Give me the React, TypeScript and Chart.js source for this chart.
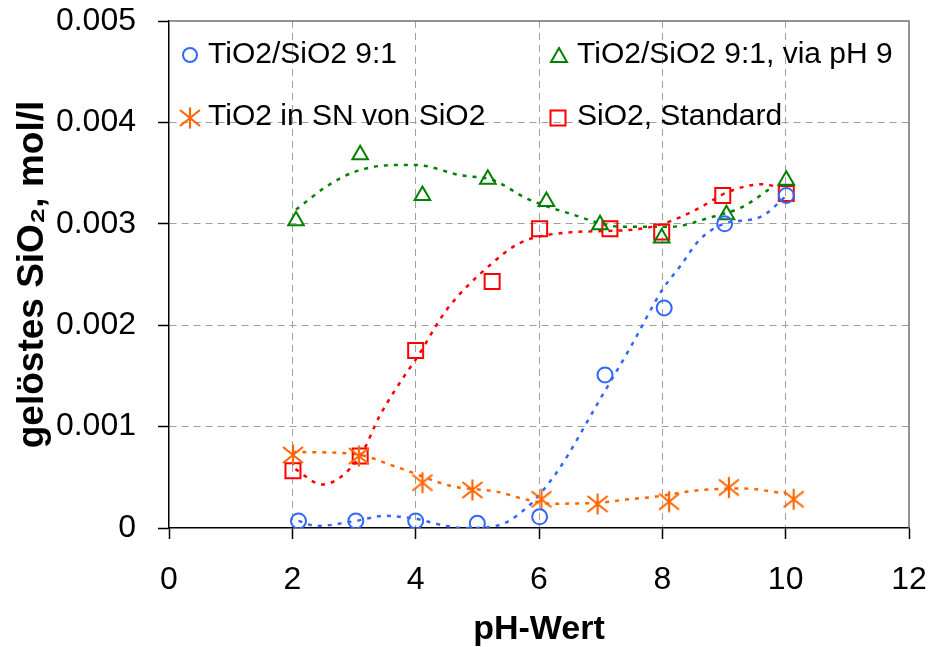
import React, { useEffect, useRef } from 'react';
import { Chart, registerables } from 'chart.js';

Chart.register(...registerables);

const FONT = '"Liberation Sans", Arial, sans-serif';

const xTickLabels = ['0', '2', '4', '6', '8', '10', '12'];
const yTickLabels = ['0', '0.001', '0.002', '0.003', '0.004', '0.005'];
const seriesNames = ['TiO2/SiO2 9:1', 'TiO2/SiO2 9:1, via pH 9', 'TiO2 in SN von SiO2', 'SiO2, Standard'];
const xTitle = 'pH-Wert';
const yTitle = 'gelöstes SiO₂, mol/l';

// measured points
const blueX = [2.1, 3.03, 4.0, 5.0, 6.01, 7.07, 8.03, 9.01, 10.01];
const blueY = [0.00007, 0.00007, 0.00007, 0.000046, 0.00011, 0.00151, 0.00217, 0.003, 0.00328];
const greenX = [2.06, 3.1, 4.11, 5.17, 6.12, 6.99, 7.99, 9.04, 10.01];
const greenY = [0.00303, 0.00368, 0.00328, 0.00344, 0.00322, 0.00299, 0.00286, 0.00309, 0.00343];
const orangeX = [2.01, 3.08, 4.11, 4.92, 6.04, 6.95, 8.11, 9.08, 10.13];
const orangeY = [0.00072, 0.00071, 0.000447, 0.000375, 0.000283, 0.000237, 0.00026, 0.0004, 0.000283];
const redX = [2.01, 3.1, 4.0, 5.24, 6.01, 7.15, 7.99, 8.98, 10.01];
const redY = [0.000565, 0.00071, 0.00175, 0.00243, 0.00295, 0.00295, 0.00292, 0.00328, 0.0033];

// dotted trend curves
const blueCurveX = [2.1, 2.4, 3.03, 3.5, 4.0, 4.5, 4.8, 5.3, 5.8, 6.3, 7.0, 7.5, 8.0, 8.3, 8.6, 9.0, 9.6, 10.0];
const blueCurveY = [0.00007, 0.00002, 0.00007, 0.00012, 0.00009, 0.00002, 0.0, 0.00002, 0.0002, 0.00056, 0.00128, 0.0018, 0.00235, 0.00259, 0.00284, 0.003, 0.00307, 0.00327];
const greenCurveX = [2.06, 2.56, 3.0, 3.64, 4.0, 4.72, 5.26, 5.8, 6.45, 7.36, 8.12, 8.82, 9.31, 9.8];
const greenCurveY = [0.00314, 0.00337, 0.00351, 0.00358, 0.00358, 0.00348, 0.00343, 0.00325, 0.00311, 0.00297, 0.00297, 0.00307, 0.00317, 0.00337];
const orangeCurveX = [2.0, 3.0, 3.7, 4.6, 5.3, 5.8, 6.2, 7.0, 7.4, 7.9, 8.55, 9.3, 10.0];
const orangeCurveY = [0.00075, 0.00073, 0.0006, 0.00041, 0.00036, 0.00028, 0.00024, 0.00025, 0.00028, 0.00031, 0.00037, 0.00039, 0.00034];
const redCurveX = [2.05, 2.48, 3.1, 3.42, 3.85, 4.0, 4.5, 5.2, 5.69, 6.39, 7.47, 8.01, 8.55, 9.09, 9.63, 9.9];
const redCurveY = [0.00058, 0.00043, 0.00071, 0.00111, 0.00153, 0.00166, 0.00215, 0.00259, 0.00281, 0.00291, 0.00294, 0.003, 0.00314, 0.00332, 0.00339, 0.00336];

const BLUE = '#3366ff';
const GREEN = '#008000';
const ORANGE = '#ff6600';
const RED = '#ff0000';

const pts = (xs: number[], ys: number[]) => xs.map((x, i) => ({ x, y: ys[i] }));

function makeStar(): HTMLCanvasElement {
  const c = document.createElement('canvas');
  c.width = 24;
  c.height = 24;
  const g = c.getContext('2d')!;
  g.strokeStyle = ORANGE;
  g.lineWidth = 2.2;
  g.beginPath();
  g.moveTo(12, 1.5); g.lineTo(12, 22.5);
  g.moveTo(2, 4); g.lineTo(22, 20);
  g.moveTo(2, 20); g.lineTo(22, 4);
  g.stroke();
  return c;
}

export default function App() {
  const ref = useRef<HTMLCanvasElement>(null);
  useEffect(() => {
    document.body.style.margin = '0';
    const star = makeStar();
    const edgeTransparent = (maxV: number) => (c: any) =>
      c.tick && (c.tick.value === 0 || Math.abs(c.tick.value - maxV) < 1e-12) ? 'rgba(0,0,0,0)' : '#a0a0a0';

    const frame = {
      id: 'frame',
      beforeDatasetsDraw(chart: any) {
        const { ctx, chartArea: a } = chart;
        ctx.save();
        ctx.strokeStyle = '#707070';
        ctx.lineWidth = 1.5;
        ctx.beginPath();
        ctx.moveTo(a.left, a.top);
        ctx.lineTo(a.right, a.top);
        ctx.lineTo(a.right, a.bottom);
        ctx.stroke();
        ctx.restore();
      },
    };

    const legend = {
      id: 'customLegend',
      afterDraw(chart: any) {
        const ctx = chart.ctx;
        const items = [
          { kind: 'circle', color: BLUE, mx: 190, my: 55, tx: 208, ty: 63 },
          { kind: 'triangle', color: GREEN, mx: 559, my: 56, tx: 577, ty: 63 },
          { kind: 'star', color: ORANGE, mx: 190, my: 118, tx: 208, ty: 125 },
          { kind: 'rect', color: RED, mx: 558, my: 118, tx: 577, ty: 125 },
        ];
        ctx.save();
        items.forEach((it, i) => {
          ctx.strokeStyle = it.color;
          ctx.lineWidth = 2;
          ctx.beginPath();
          if (it.kind === 'circle') {
            ctx.arc(it.mx, it.my, 7, 0, Math.PI * 2);
            ctx.stroke();
          } else if (it.kind === 'triangle') {
            ctx.moveTo(it.mx, it.my - 8);
            ctx.lineTo(it.mx + 8, it.my + 6);
            ctx.lineTo(it.mx - 8, it.my + 6);
            ctx.closePath();
            ctx.stroke();
          } else if (it.kind === 'rect') {
            ctx.rect(it.mx - 7.5, it.my - 7.5, 15, 15);
            ctx.stroke();
          } else {
            ctx.drawImage(star, it.mx - 12, it.my - 12);
          }
          ctx.fillStyle = '#000';
          ctx.font = `30px ${FONT}`;
          ctx.textAlign = 'left';
          ctx.textBaseline = 'alphabetic';
          ctx.fillText(seriesNames[i], it.tx, it.ty);
        });
        ctx.restore();
      },
    };

    const curve = (xs: number[], ys: number[], color: string) => ({
      data: pts(xs, ys),
      showLine: true,
      borderColor: color,
      borderWidth: 2.5,
      borderDash: [4, 6],
      pointRadius: 0,
      cubicInterpolationMode: 'monotone' as const,
      fill: false,
      order: 2,
    });
    const marks = (xs: number[], ys: number[], color: string, style: any, r: number) => ({
      data: pts(xs, ys),
      showLine: false,
      pointStyle: style,
      pointRadius: r,
      pointBorderColor: color,
      pointBackgroundColor: 'rgba(0,0,0,0)',
      pointBorderWidth: 2,
      order: 1,
    });

    const chart = new Chart(ref.current!, {
      type: 'scatter',
      data: {
        datasets: [
          { label: seriesNames[0], ...marks(blueX, blueY, BLUE, 'circle', 7.5) },
          { label: seriesNames[1], ...marks(greenX, greenY, GREEN, 'triangle', 9) },
          { label: seriesNames[2], ...marks(orangeX, orangeY, ORANGE, star, 12) },
          { label: seriesNames[3], ...marks(redX, redY, RED, 'rect', 10.6) },
          curve(blueCurveX, blueCurveY, BLUE),
          curve(greenCurveX, greenCurveY, GREEN),
          curve(orangeCurveX, orangeCurveY, ORANGE),
          curve(redCurveX, redCurveY, RED),
        ] as any,
      },
      options: {
        animation: false,
        responsive: false,
        devicePixelRatio: 1,
        layout: { padding: { top: 21, right: 21, left: 0, bottom: 0 } },
        plugins: { legend: { display: false }, tooltip: { enabled: false } },
        scales: {
          x: {
            type: 'linear',
            min: 0,
            max: 12,
            ticks: {
              stepSize: 2,
              color: '#000',
              font: { family: FONT, size: 32 },
              padding: 22,
              maxRotation: 0,
              callback: (_v: any, i: number) => xTickLabels[i],
            },
            grid: { color: edgeTransparent(12), lineWidth: 1, tickColor: '#000', tickLength: 11, tickWidth: 1.5 },
            border: { color: '#000', width: 1.5, dash: [7, 5] },
            title: {
              display: true,
              text: xTitle,
              color: '#000',
              font: { family: FONT, size: 34, weight: 'bold', lineHeight: 1 },
              padding: { top: 0, bottom: 0 },
            },
            afterFit: (s: any) => { s.height = 119; s.paddingLeft = 0; s.paddingRight = 0; },
          },
          y: {
            type: 'linear',
            min: 0,
            max: 0.005,
            ticks: {
              stepSize: 0.001,
              color: '#000',
              font: { family: FONT, size: 32 },
              padding: 22,
              callback: (_v: any, i: number) => yTickLabels[i],
            },
            grid: { color: edgeTransparent(0.005), lineWidth: 1, tickColor: '#000', tickLength: 11, tickWidth: 1.5 },
            border: { color: '#000', width: 1.5, dash: [7, 5] },
            title: {
              display: true,
              text: yTitle,
              color: '#000',
              font: { family: FONT, size: 37, weight: 'bold', lineHeight: 1 },
              padding: { top: 14, bottom: 0 },
            },
            afterFit: (s: any) => { s.width = 169; s.paddingTop = 0; s.paddingBottom = 0; },
          },
        },
      } as any,
      plugins: [frame, legend],
    });
    return () => chart.destroy();
  }, []);
  return (
    <div style={{ width: 930, height: 647 }}>
      <canvas ref={ref} width={930} height={647} style={{ display: 'block' }} />
    </div>
  );
}
